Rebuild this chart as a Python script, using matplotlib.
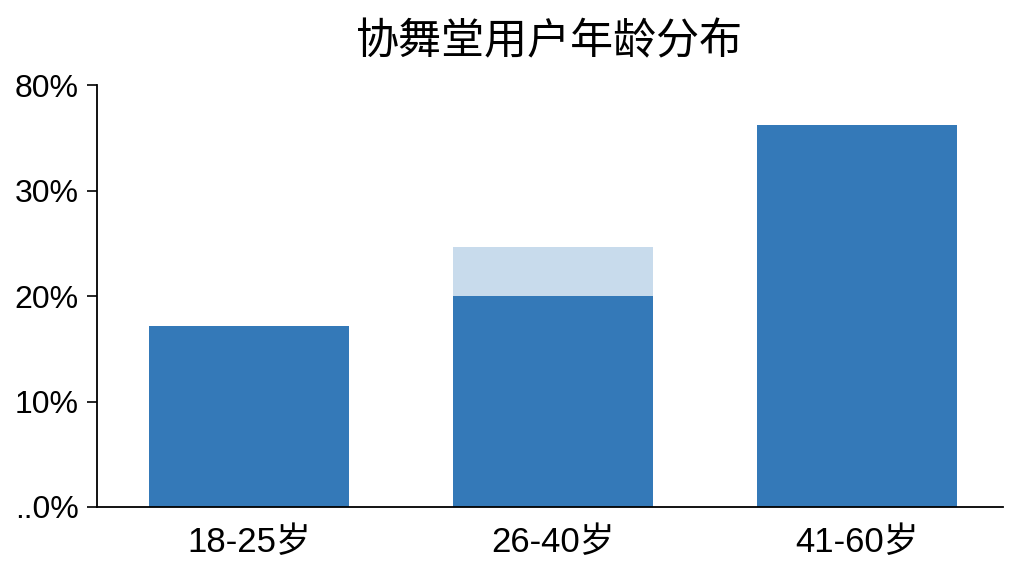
import matplotlib
matplotlib.use('Agg')
import matplotlib.pyplot as plt
import numpy as np

plt.rcParams['font.family'] = ['Liberation Sans', 'Noto Sans CJK SC', 'DejaVu Sans']

# data
groups = ['18-25岁', '26-40岁', '41-60岁']
base_vals = [17.2, 20.0, 36.2]
extra_vals = [0.0, 4.6, 0.0]   # light segment on top of 26-40
ytick_vals = [0, 10, 20, 30, 40]
ytick_labels = ['..0%', '10%', '20%', '30%', '80%']

dark = '#3479b8'
light = '#c8dbec'

fig = plt.figure(figsize=(10.24, 5.76), dpi=100, facecolor='white')
ax = fig.add_axes([0.0947, 0.1198, 0.8848, 0.7326])

x = np.arange(len(groups))
ax.bar(x, base_vals, width=0.658, color=dark, zorder=2)
ax.bar(x, extra_vals, bottom=base_vals, width=0.658, color=light, zorder=2)

ax.set_xlim(-0.5, 2.48)
ax.set_ylim(0, 40)
ax.set_yticks(ytick_vals)
ax.set_yticklabels(ytick_labels, fontsize=23)
ax.set_xticks(x)
ax.set_xticklabels(groups, fontsize=25)
ax.tick_params(axis='x', length=0, pad=14)
ax.tick_params(axis='y', length=7, width=1.2, pad=6)

for s in ['top', 'right']:
    ax.spines[s].set_visible(False)
for s in ['left', 'bottom']:
    ax.spines[s].set_linewidth(1.3)

fig.text(0.537, 0.925, '协舞堂用户年龄分布', fontsize=31, ha='center', va='center')

fig.savefig('out.png', dpi=100, facecolor='white')
